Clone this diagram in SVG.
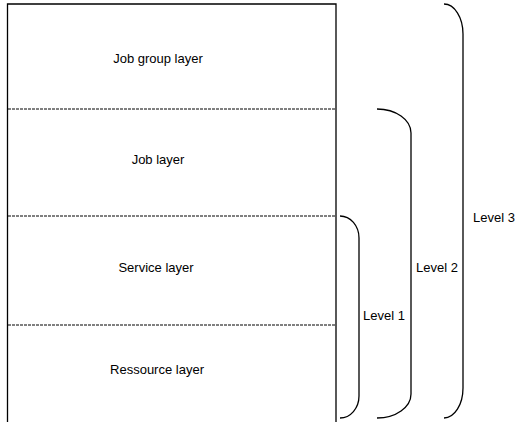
<svg xmlns="http://www.w3.org/2000/svg" width="517" height="422" viewBox="0 0 517 422">
  <style>
    .frame { fill: none; stroke: #000; stroke-width: 1.3; }
    .divider { fill: none; stroke: #000; stroke-width: 1; stroke-dasharray: 3 1; }
    .brace { fill: none; stroke: #000; stroke-width: 1.3; }
    .label { font-family: "Liberation Sans", Arial, Helvetica, sans-serif; font-size: 13px; fill: #000; text-anchor: middle; }
  </style>
  <rect width="517" height="422" fill="#fff"/>

  <!-- layer stack (open at the bottom) -->
  <g id="stack">
    <path class="frame" d="M7.5 422 V4 H336 V422"/>
    <line class="divider" x1="8" y1="109" x2="335" y2="109"/>
    <line class="divider" x1="8" y1="216" x2="335" y2="216"/>
    <line class="divider" x1="8" y1="325" x2="335" y2="325"/>
  </g>

  <g id="job-group-layer"><text class="label" x="158" y="63">Job group layer</text></g>
  <g id="job-layer"><text class="label" x="158" y="164">Job layer</text></g>
  <g id="service-layer"><text class="label" x="156" y="272">Service layer</text></g>
  <g id="ressource-layer"><text class="label" x="157" y="374">Ressource layer</text></g>

  <!-- level brackets -->
  <g id="connectors">
    <path class="brace" d="M340 216 A19 22 0 0 1 359 238 V396 A19 22 0 0 1 340 418"/>
    <path class="brace" d="M377 109 A34 24 0 0 1 411 133 V394 A34 24 0 0 1 377 418"/>
    <path class="brace" d="M444 4 A19 30 0 0 1 463 34 V388 A19 30 0 0 1 444 418"/>
  </g>

  <g id="level-1"><text class="label" x="384" y="320">Level 1</text></g>
  <g id="level-2"><text class="label" x="437" y="272">Level 2</text></g>
  <g id="level-3"><text class="label" x="494" y="222">Level 3</text></g>
</svg>
